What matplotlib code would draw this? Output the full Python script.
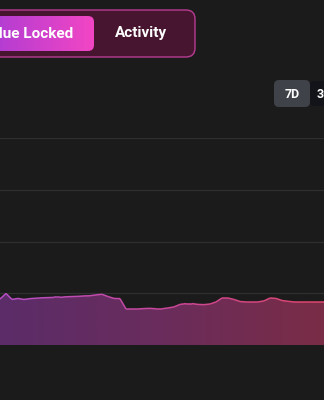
import matplotlib.pyplot as plt
import numpy as np
from matplotlib.collections import LineCollection
from matplotlib.colors import LinearSegmentedColormap
from matplotlib.patches import FancyBboxPatch

plt.rcParams['font.family'] = ['Roboto', 'DejaVu Sans']

# tvl series (chart units, 0..100 = bottom..top gridline)
tvl = [22.2, 24.9, 22.0, 22.5, 22.0, 22.4, 22.6, 22.8, 22.9, 23.0,
       23.0, 23.3, 23.4, 23.5, 23.7, 23.8, 24.2, 24.5, 23.4, 22.5,
       22.4, 17.4, 17.4, 17.4, 17.6, 17.7, 17.5, 17.5, 17.9, 18.4,
       19.6, 20.0, 20.0, 19.6, 19.5, 19.8, 20.8, 22.7, 22.7, 22.0,
       21.0, 20.8, 20.8, 20.8, 21.3, 22.7, 22.5, 21.5, 21.1, 20.8,
       20.8, 20.8, 20.8, 20.8, 20.8]
grid_vals = [25, 50, 75, 100]
tabs = ['Total Value Locked', 'Activity']
ranges = ['7D', '30D']

bg = '#1b1b1b'
fig = plt.figure(figsize=(3.24, 4), dpi=100, facecolor=bg)

# chart area: bottom at 345px, top gridline at 138px
ax = fig.add_axes([0, 55 / 400, 1, 207 / 400])
ax.set_facecolor(bg)
x = np.arange(len(tvl))
ax.set_xlim(0, len(tvl) - 1)
ax.set_ylim(0, 100)
for g in grid_vals:
    ax.axhline(g, color='#2f2f2f', lw=0.9, zorder=1)
for s in ax.spines.values():
    s.set_visible(False)
ax.set_xticks([])
ax.set_yticks([])

fill_cmap = LinearSegmentedColormap.from_list('f', ['#5b2c69', '#6a2c5c', '#7a2d46'])
line_cmap = LinearSegmentedColormap.from_list('l', ['#b64fc4', '#c9479a', '#e0456a'])

poly = ax.fill_between(x, tvl, 0, color='none', lw=0)
grad = np.linspace(0, 1, 256).reshape(1, -1)
im = ax.imshow(grad, cmap=fill_cmap, aspect='auto', zorder=2,
               extent=[0, len(tvl) - 1, 0, 100], origin='lower')
im.set_clip_path(poly.get_paths()[0], transform=ax.transData)

pts = np.column_stack([x, tvl]).reshape(-1, 1, 2)
segs = np.concatenate([pts[:-1], pts[1:]], axis=1)
lc = LineCollection(segs, colors=line_cmap(x[:-1] / (len(tvl) - 1)), lw=1.1, zorder=3)
ax.add_collection(lc)

# UI overlay in pixel coordinates
ui = fig.add_axes([0, 0, 1, 1])
ui.set_xlim(0, 324)
ui.set_ylim(400, 0)
ui.axis('off')
ui.patch.set_alpha(0)

ui.add_patch(FancyBboxPatch((-30, 10), 225, 47, boxstyle='round,pad=0,rounding_size=9',
                            fc='#47152f', ec='#b83c93', lw=1))
btn = FancyBboxPatch((-30, 16), 124, 35, boxstyle='round,pad=0,rounding_size=6',
                     fc='none', ec='none')
ui.add_patch(btn)
bim = ui.imshow(np.linspace(0, 1, 256).reshape(1, -1), aspect='auto',
                cmap=LinearSegmentedColormap.from_list('b', ['#a23ad6', '#f246c4']),
                extent=[-30, 94, 51, 16], zorder=2)
bim.set_clip_path(btn)
ui.text(73, 33.5, tabs[0], color='white', fontsize=11, fontweight='bold',
        ha='right', va='center', zorder=3)
ui.text(141, 33.5, tabs[1], color='white', fontsize=11, fontweight='bold',
        ha='center', va='center', zorder=3)

ui.add_patch(FancyBboxPatch((274, 80), 36, 27, boxstyle='round,pad=0,rounding_size=5',
                            fc='#40424a', ec='none'))
ui.add_patch(FancyBboxPatch((310, 81), 40, 25, boxstyle='round,pad=0,rounding_size=4',
                            fc='#121419', ec='none'))
ui.text(292, 94, ranges[0], color='white', fontsize=9, fontweight='bold',
        ha='center', va='center')
ui.text(317, 94, ranges[1], color='white', fontsize=9, fontweight='bold',
        ha='left', va='center')
ui.set_xlim(0, 324)
ui.set_ylim(400, 0)

fig.savefig('out.png', dpi=100, facecolor=bg)
